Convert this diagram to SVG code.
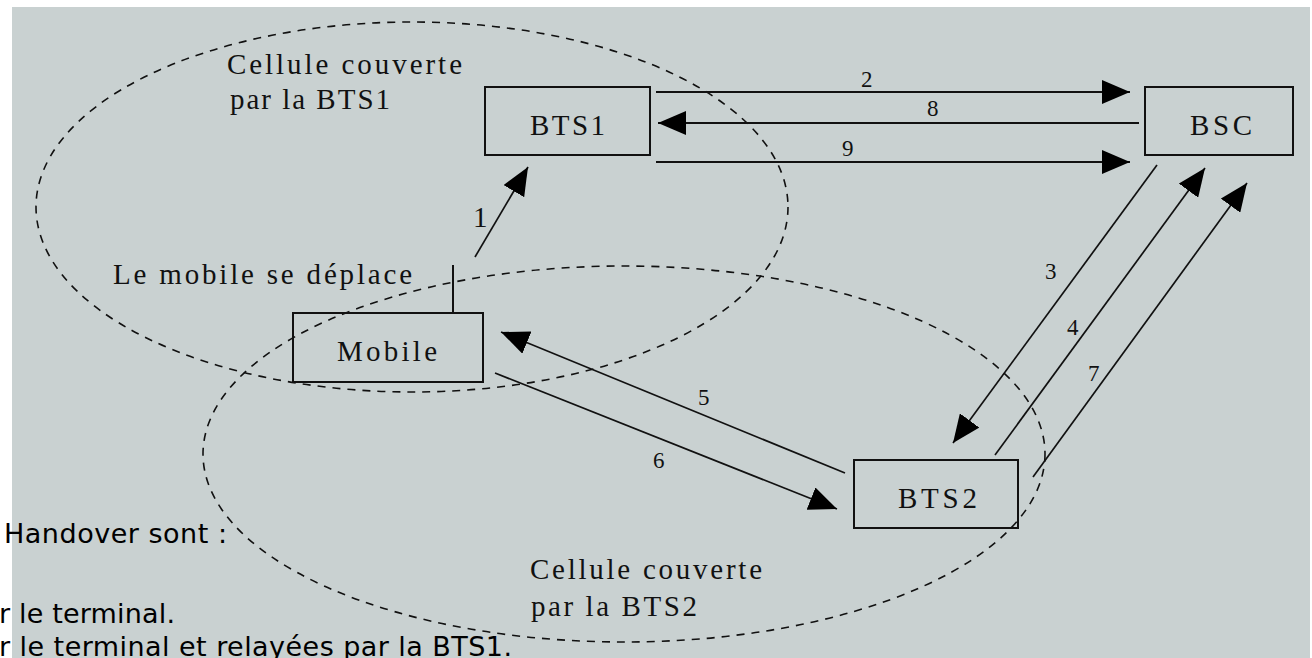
<svg xmlns="http://www.w3.org/2000/svg" width="1312" height="658" viewBox="0 0 1312 658">
<style>
.box{fill:none;stroke:#111;stroke-width:2}
.lbl{font-family:"Liberation Serif",serif;font-size:29px;fill:#111}
.num{font-family:"Liberation Serif",serif;font-size:23px;fill:#111}
.cell{fill:none;stroke:#111;stroke-width:1.6;stroke-dasharray:8 7}
.conn{stroke:#111;stroke-width:1.7;fill:none}
.thick{stroke-width:2}
.note{font-family:"DejaVu Sans",sans-serif;font-size:27px;fill:#000}
</style>
<defs>
<marker id="ah" markerUnits="userSpaceOnUse" viewBox="0 0 28 24" refX="28" refY="12" markerWidth="28" markerHeight="24" orient="auto">
<path d="M0,0 L28,12 L0,24 Z" fill="#000"/>
</marker>
</defs>
<rect x="0" y="0" width="1312" height="658" fill="#fff"/>
<rect x="12" y="7" width="1298" height="651" fill="#c9d1d1"/>

<g id="cells">
<ellipse class="cell" cx="412" cy="207" rx="376" ry="185"/>
<ellipse class="cell" cx="624" cy="454" rx="421" ry="188"/>
</g>

<g id="node-bts1">
<rect class="box" x="485" y="87" width="165" height="68"/>
<text class="lbl" x="530" y="135" textLength="75" lengthAdjust="spacing">BTS1</text>
</g>
<g id="node-bsc">
<rect class="box" x="1145" y="87" width="148" height="68"/>
<text class="lbl" x="1190" y="135" textLength="62" lengthAdjust="spacing">BSC</text>
</g>
<g id="node-mobile">
<rect class="box" x="293" y="313" width="190" height="69"/>
<text class="lbl" x="337" y="361" textLength="100" lengthAdjust="spacing">Mobile</text>
<line x1="453" y1="265" x2="453" y2="313" stroke="#111" stroke-width="2"/>
</g>
<g id="node-bts2">
<rect class="box" x="854" y="460" width="164" height="68"/>
<text class="lbl" x="898" y="508" textLength="79" lengthAdjust="spacing">BTS2</text>
</g>

<g id="connectors">
<line class="conn thick" x1="656" y1="92" x2="1130" y2="92" marker-end="url(#ah)"/>
<line class="conn thick" x1="1139" y1="123" x2="658" y2="123" marker-end="url(#ah)"/>
<line class="conn thick" x1="656" y1="162" x2="1130" y2="162" marker-end="url(#ah)"/>
<line class="conn" x1="475" y1="257" x2="528" y2="167" marker-end="url(#ah)"/>
<line class="conn" x1="1157" y1="165" x2="953" y2="443" marker-end="url(#ah)"/>
<line class="conn" x1="995" y1="455" x2="1205" y2="168" marker-end="url(#ah)"/>
<line class="conn" x1="1033" y1="477" x2="1247" y2="183" marker-end="url(#ah)"/>
<line class="conn" x1="845" y1="473" x2="501" y2="332" marker-end="url(#ah)"/>
<line class="conn" x1="495" y1="373" x2="837" y2="509" marker-end="url(#ah)"/>
</g>

<g id="labels">
<text class="num" x="861" y="87">2</text>
<text class="num" x="927" y="116">8</text>
<text class="num" x="842" y="156">9</text>
<text class="lbl" x="473" y="227">1</text>
<text class="num" x="1045" y="279">3</text>
<text class="num" x="1067" y="335">4</text>
<text class="num" x="1088" y="381">7</text>
<text class="num" x="698" y="405">5</text>
<text class="num" x="653" y="468">6</text>
<text class="lbl" x="227" y="74" textLength="235" lengthAdjust="spacing">Cellule couverte</text>
<text class="lbl" x="230" y="109" textLength="160" lengthAdjust="spacing">par la BTS1</text>
<text class="lbl" x="113" y="284" textLength="299" lengthAdjust="spacing">Le mobile se déplace</text>
<text class="lbl" x="530" y="579" textLength="232" lengthAdjust="spacing">Cellule couverte</text>
<text class="lbl" x="531" y="616" textLength="166" lengthAdjust="spacing">par la BTS2</text>
</g>

<g id="notes">
<text class="note" x="4" y="543" textLength="223" lengthAdjust="spacing">Handover sont :</text>
<text class="note" x="-1" y="623" textLength="176" lengthAdjust="spacing">r le terminal.</text>
<text class="note" x="-1" y="656" textLength="513" lengthAdjust="spacing">r le terminal et relayées par la BTS1.</text>
</g>
</svg>
